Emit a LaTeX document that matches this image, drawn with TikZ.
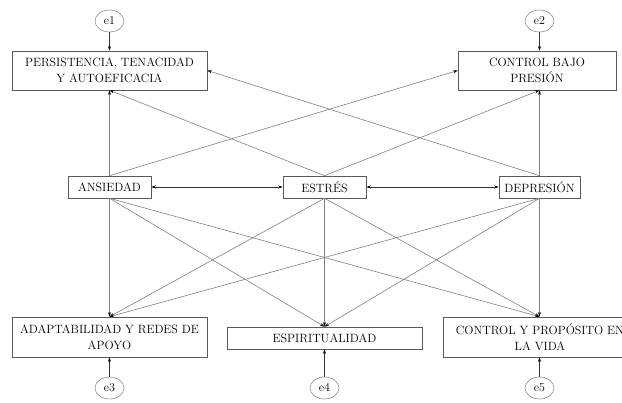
\documentclass[tikz,border=0pt]{standalone}
\usetikzlibrary{arrows.meta,shapes.geometric}
\begin{document}
\begin{tikzpicture}[x=1pt,y=-1pt,
  box/.style={draw=black!65,line width=0.6pt,fill=white,inner sep=0pt,align=center,
    font=\fontsize{12}{16}\selectfont,text=black},
  err/.style={draw=black!60,ellipse,minimum width=29pt,minimum height=22pt,inner sep=0pt,
    font=\fontsize{12}{14}\selectfont,text=black},
  path/.style={draw=black!50,line width=0.6pt,-{Stealth[length=4.5pt,width=3pt,color=black]}},
  cov/.style={draw=black!80,line width=0.6pt,{Stealth[length=4.5pt,width=3pt,color=black]}-{Stealth[length=4.5pt,width=3pt,color=black]}},
  eps/.style={draw=black!80,line width=0.6pt,-{Stealth[length=4.5pt,width=3pt,color=black]}}]
\useasboundingbox (0,0) rectangle (622,403);
\clip (0,0) rectangle (622,403);
% outcome boxes
\node[box,minimum width=195pt,minimum height=39pt] (b1) at (109.5,70.5) {PERSISTENCIA, TENACIDAD\\Y AUTOEFICACIA};
\node[box,minimum width=158pt,minimum height=39pt] (b2) at (537,70.5) {CONTROL BAJO\\PRESIÓN};
\node[box,minimum width=195pt,minimum height=40pt] (b3) at (109.5,337) {ADAPTABILIDAD Y REDES DE\\APOYO};
\node[box,minimum width=195pt,minimum height=22pt] (b4) at (324.5,338) {ESPIRITUALIDAD};
\node[box,minimum width=194pt,minimum height=40pt] (b5) at (540,337) {CONTROL Y PROPÓSITO EN\\LA VIDA};
% predictors
\node[box,minimum width=83pt,minimum height=22pt] (anx) at (109.5,187) {ANSIEDAD};
\node[box,minimum width=83pt,minimum height=22pt] (est) at (324.5,187) {ESTRÉS};
\node[box,minimum width=81pt,minimum height=22pt] (dep) at (539.5,187) {DEPRESIÓN};
% errors
\node[err] (e1) at (109.5,21) {e1};
\node[err] (e2) at (539.5,21) {e2};
\node[err] (e3) at (109.5,388) {e3};
\node[err] (e4) at (324.5,388) {e4};
\node[err] (e5) at (539.5,388) {e5};
% error arrows
\draw[eps] (e1) -- (b1);
\draw[eps] (e2) -- (dep.north |- b2.north);
\draw[eps] (e3) -- (b3);
\draw[eps] (e4) -- (b4);
\draw[eps] (e5) -- (b5.south -| e5);
% covariances
\draw[cov] (anx) -- (est);
\draw[cov] (est) -- (dep);
% top paths
\draw[path] (anx.north) -- (b1.south);
\draw[path] (anx.north) -- (b2.west);
\draw[path] (est.north) -- (b1.south);
\draw[path] (est.north) -- (dep.north |- b2.south);
\draw[path] (dep.north) -- (b1.east);
\draw[path] (dep.north) -- (dep.north |- b2.south);
% bottom paths
\foreach \s in {anx,est,dep}{
  \draw[path] (\s.south) -- (b3.north);
  \draw[path] (\s.south) -- (b4.north);
  \draw[path] (\s.south) -- (b5.north -| dep);
}
\end{tikzpicture}
\end{document}
